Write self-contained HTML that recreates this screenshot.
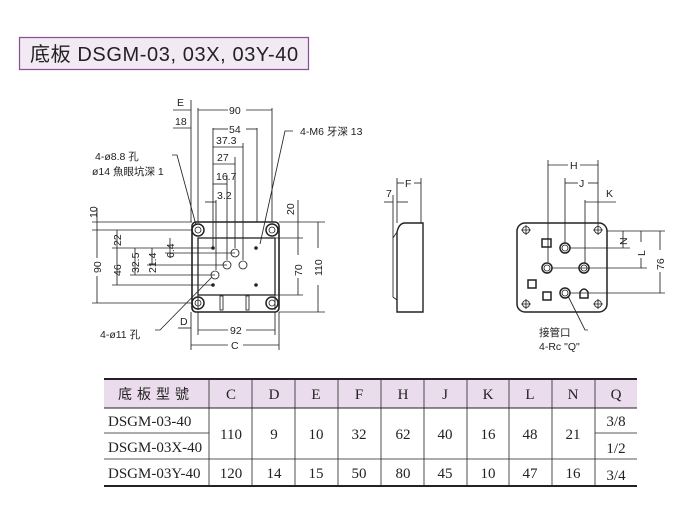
<!DOCTYPE html>
<html><head><meta charset="utf-8"><style>
body{margin:0;background:#fff;}
svg{display:block;font-family:"Liberation Sans","Noto Sans CJK TC",sans-serif;}
.t{font-family:"Liberation Serif","Noto Serif CJK SC",serif;font-size:15px;fill:#222;}
</style></head><body>
<svg width="689" height="520" viewBox="0 0 689 520" xmlns="http://www.w3.org/2000/svg">
<rect x="0" y="0" width="689" height="520" fill="#fff"/>
<!-- title -->
<rect x="19.5" y="37.5" width="289" height="32" fill="#f1eaf3" stroke="#8a4a96" stroke-width="1.2"/>
<text x="30" y="61" font-size="20" fill="#222" letter-spacing="0.6">底板 DSGM-03, 03X, 03Y-40</text>

<g stroke="#222" stroke-width="0.85" fill="none">
<!-- front view plate -->
<rect x="192" y="222" width="87" height="90" rx="4" stroke-width="1.6"/>
<rect x="198" y="238" width="77" height="57" stroke-width="1.3"/>
<line x1="198" y1="295" x2="198" y2="310"/><line x1="275" y1="295" x2="275" y2="310"/>
<rect x="220" y="296" width="3" height="14"/><rect x="246" y="296" width="3" height="14"/>
<circle cx="198" cy="230" r="6" stroke-width="1.5"/><circle cx="198" cy="230" r="3"/>
<circle cx="272" cy="230" r="6" stroke-width="1.5"/><circle cx="272" cy="230" r="3"/>
<circle cx="198" cy="303" r="6" stroke-width="1.5"/><circle cx="198" cy="303" r="3"/>
<circle cx="272" cy="303" r="6" stroke-width="1.5"/><circle cx="272" cy="303" r="3"/>
<circle cx="235" cy="253" r="4"/><circle cx="227" cy="265" r="4"/><circle cx="243" cy="265" r="4"/><circle cx="215" cy="275" r="4"/>
<g fill="#222" stroke="none"><circle cx="213" cy="248" r="1.8"/><circle cx="256" cy="248" r="1.8"/><circle cx="213" cy="285" r="1.8"/><circle cx="256" cy="285" r="1.8"/></g>
<!-- top dims -->
<line x1="191" y1="100" x2="191" y2="222"/><line x1="198" y1="108" x2="198" y2="222"/>
<line x1="272" y1="108" x2="272" y2="222"/><line x1="257" y1="128" x2="257" y2="222"/>
<line x1="243" y1="143" x2="243" y2="260"/><line x1="235" y1="157" x2="235" y2="248"/>
<line x1="227" y1="175" x2="227" y2="260"/><line x1="213" y1="128" x2="213" y2="248"/>
<line x1="216" y1="200" x2="216" y2="270"/>
<line x1="173" y1="110" x2="191" y2="110"/>
<line x1="198" y1="110" x2="228" y2="110"/><line x1="246" y1="110" x2="272" y2="110"/>
<line x1="173" y1="128" x2="191" y2="128"/>
<line x1="213" y1="129" x2="228" y2="129"/><line x1="246" y1="129" x2="257" y2="129"/>
<line x1="213" y1="147" x2="243" y2="147"/><line x1="213" y1="164" x2="235" y2="164"/>
<line x1="213" y1="184" x2="227" y2="184"/><line x1="205" y1="202" x2="216" y2="202"/>
<!-- left dims -->
<line x1="92" y1="222" x2="192" y2="222"/><line x1="92" y1="230" x2="192" y2="230"/>
<line x1="112" y1="248" x2="213" y2="248"/><line x1="165" y1="253" x2="235" y2="253"/>
<line x1="147" y1="265" x2="227" y2="265"/><line x1="130" y1="275" x2="215" y2="275"/>
<line x1="112" y1="285" x2="213" y2="285"/><line x1="92" y1="303" x2="192" y2="303"/>
<line x1="97" y1="230" x2="97" y2="258"/><line x1="97" y1="276" x2="97" y2="303"/>
<line x1="97" y1="208" x2="97" y2="230"/>
<line x1="117" y1="230" x2="117" y2="285"/><line x1="135" y1="248" x2="135" y2="275"/>
<line x1="152" y1="248" x2="152" y2="265"/><line x1="170" y1="238" x2="170" y2="258"/>
<!-- right dims -->
<line x1="279" y1="222" x2="325" y2="222"/><line x1="275" y1="238" x2="303" y2="238"/>
<line x1="275" y1="295" x2="303" y2="295"/><line x1="279" y1="312" x2="325" y2="312"/>
<line x1="298" y1="200" x2="298" y2="238"/><line x1="298" y1="238" x2="298" y2="255"/><line x1="298" y1="278" x2="298" y2="295"/>
<line x1="318" y1="222" x2="318" y2="248"/><line x1="318" y1="285" x2="318" y2="312"/>
<!-- bottom dims -->
<line x1="191" y1="312" x2="191" y2="350"/><line x1="198" y1="312" x2="198" y2="335"/>
<line x1="275" y1="312" x2="275" y2="335"/><line x1="279" y1="312" x2="279" y2="350"/>
<line x1="178" y1="328" x2="191" y2="328"/>
<line x1="198" y1="330" x2="228" y2="330"/><line x1="246" y1="330" x2="275" y2="330"/>
<line x1="191" y1="345" x2="228" y2="345"/><line x1="243" y1="345" x2="279" y2="345"/>
<!-- leaders -->
<polyline points="172,155 177,155 196,225"/>
<polyline points="293,131 285,131 260,244"/>
<polyline points="155,330 160,330 212,277"/>
<!-- side view -->
<path d="M397,312 L397,232 Q399,223 405,223 L423,223 L423,312 Z" stroke-width="1.4"/>
<path d="M397,232 L393,238 L393,297 L397,300"/>
<line x1="397" y1="178" x2="397" y2="223"/><line x1="421" y1="178" x2="421" y2="223"/>
<line x1="397" y1="183" x2="404" y2="183"/><line x1="414" y1="183" x2="421" y2="183"/>
<line x1="384" y1="202" x2="393" y2="202"/><line x1="393" y1="195" x2="393" y2="238"/><line x1="397" y1="202" x2="408" y2="202"/>
<!-- right view -->
<rect x="517" y="223" width="90" height="89" rx="8" stroke-width="1.5"/>
<circle cx="526" cy="230" r="3.5"/><circle cx="598" cy="230" r="3.5"/><circle cx="526" cy="304" r="3.5"/><circle cx="598" cy="304" r="3.5"/>
<path d="M521,230h10M526,225v10M593,230h10M598,225v10M521,304h10M526,299v10M593,304h10M598,299v10"/>
<circle cx="565" cy="248" r="5" stroke-width="1.5"/><circle cx="565" cy="248" r="3"/>
<circle cx="547" cy="268" r="5" stroke-width="1.5"/><circle cx="547" cy="268" r="3"/>
<circle cx="584" cy="268" r="5" stroke-width="1.5"/><circle cx="584" cy="268" r="3"/>
<circle cx="565" cy="293" r="5" stroke-width="1.5"/><circle cx="565" cy="293" r="3"/>
<rect x="542" y="239" width="9" height="8" stroke-width="1.5"/>
<rect x="528" y="280" width="8" height="8" stroke-width="1.5"/>
<rect x="543" y="292" width="8" height="8" stroke-width="1.5"/>
<path d="M580,298 v-6 q4,-6 8,0 v6 z" stroke-width="1.5"/>
<line x1="548" y1="160" x2="548" y2="262"/><line x1="598" y1="160" x2="598" y2="226"/>
<line x1="548" y1="165" x2="568" y2="165"/><line x1="580" y1="165" x2="598" y2="165"/>
<line x1="565" y1="178" x2="565" y2="243"/><line x1="565" y1="183" x2="578" y2="183"/><line x1="588" y1="183" x2="598" y2="183"/>
<line x1="585" y1="200" x2="585" y2="263"/><line x1="585" y1="202" x2="616" y2="202"/>
<line x1="607" y1="231" x2="665" y2="231"/><line x1="570" y1="248" x2="630" y2="248"/>
<line x1="552" y1="268" x2="647" y2="268"/><line x1="570" y1="293" x2="665" y2="293"/>
<line x1="623" y1="231" x2="623" y2="248"/><line x1="641" y1="231" x2="641" y2="242"/><line x1="641" y1="258" x2="641" y2="268"/>
<line x1="660" y1="231" x2="660" y2="250"/><line x1="660" y1="272" x2="660" y2="293"/>
<polyline points="568,296 585,330 588,330"/>
</g>
<g font-size="10.5" fill="#222">
<text x="177" y="106">E</text><text x="229" y="114">90</text>
<text x="175" y="125">18</text><text x="229" y="133">54</text>
<text x="216" y="144">37.3</text><text x="217" y="161">27</text>
<text x="216" y="180">16.7</text><text x="217" y="199">3.2</text>
<text x="95" y="160">4-ø8.8 孔</text><text x="92" y="175">ø14 魚眼坑深 1</text>
<text x="300" y="135">4-M6 牙深 13</text>
<text x="100" y="338">4-ø11 孔</text>
<text x="180" y="325">D</text><text x="230" y="334">92</text><text x="231" y="349">C</text>
<text transform="translate(97,218) rotate(-90)">10</text>
<text transform="translate(101,273) rotate(-90)">90</text>
<text transform="translate(121,246) rotate(-90)">22</text>
<text transform="translate(121,276) rotate(-90)">46</text>
<text transform="translate(139,273) rotate(-90)">32.5</text>
<text transform="translate(156,273) rotate(-90)">21.4</text>
<text transform="translate(174,258) rotate(-90)">6.4</text>
<text transform="translate(294,215) rotate(-90)">20</text>
<text transform="translate(302,276) rotate(-90)">70</text>
<text transform="translate(322,276) rotate(-90)">110</text>
<text x="405" y="187">F</text><text x="386" y="197">7</text>
<text x="570" y="169">H</text><text x="579" y="187">J</text><text x="606" y="197">K</text>
<text transform="translate(627,245) rotate(-90)">N</text>
<text transform="translate(645,256) rotate(-90)">L</text>
<text transform="translate(664,270) rotate(-90)">76</text>
<text x="539" y="336">接管口</text><text x="539" y="350">4-Rc "Q"</text>
</g>
<!-- table -->
<rect x="104" y="379" width="533" height="29" fill="#eadcec"/>
<g stroke="#222" fill="none">
<line x1="104" y1="379" x2="637" y2="379" stroke-width="2"/>
<line x1="104" y1="408" x2="637" y2="408" stroke-width="1"/>
<line x1="104" y1="433" x2="209" y2="433" stroke-width="0.8"/>
<line x1="595" y1="433" x2="637" y2="433" stroke-width="0.8"/>
<line x1="104" y1="459" x2="637" y2="459" stroke-width="0.8"/>
<line x1="104" y1="486" x2="637" y2="486" stroke-width="2"/>
<g stroke-width="0.8">
<line x1="209" y1="379" x2="209" y2="486"/><line x1="252" y1="379" x2="252" y2="486"/>
<line x1="295" y1="379" x2="295" y2="486"/><line x1="338" y1="379" x2="338" y2="486"/>
<line x1="381" y1="379" x2="381" y2="486"/><line x1="424" y1="379" x2="424" y2="486"/>
<line x1="467" y1="379" x2="467" y2="486"/><line x1="509" y1="379" x2="509" y2="486"/>
<line x1="552" y1="379" x2="552" y2="486"/><line x1="595" y1="379" x2="595" y2="486"/>
</g></g>
<g class="t" text-anchor="middle">
<text x="156" y="399" style="font-family:'Noto Sans CJK TC',sans-serif;font-size:14px;letter-spacing:5px">底板型號</text>
<text x="231" y="399">C</text><text x="274" y="399">D</text><text x="316" y="399">E</text><text x="359" y="399">F</text><text x="403" y="399">H</text><text x="445" y="399">J</text><text x="488" y="399">K</text><text x="530" y="399">L</text><text x="573" y="399">N</text><text x="616" y="399">Q</text>
<text x="231" y="439">110</text><text x="274" y="439">9</text><text x="316" y="439">10</text><text x="359" y="439">32</text><text x="403" y="439">62</text><text x="445" y="439">40</text><text x="488" y="439">16</text><text x="530" y="439">48</text><text x="573" y="439">21</text>
<text x="616" y="426">3/8</text><text x="616" y="453">1/2</text>
<text x="231" y="478">120</text><text x="274" y="478">14</text><text x="316" y="478">15</text><text x="359" y="478">50</text><text x="403" y="478">80</text><text x="445" y="478">45</text><text x="488" y="478">10</text><text x="530" y="478">47</text><text x="573" y="478">16</text><text x="616" y="480">3/4</text>
</g>
<g class="t">
<text x="108" y="426">DSGM-03-40</text><text x="108" y="452">DSGM-03X-40</text><text x="108" y="478">DSGM-03Y-40</text>
</g>
</svg>
</body></html>
